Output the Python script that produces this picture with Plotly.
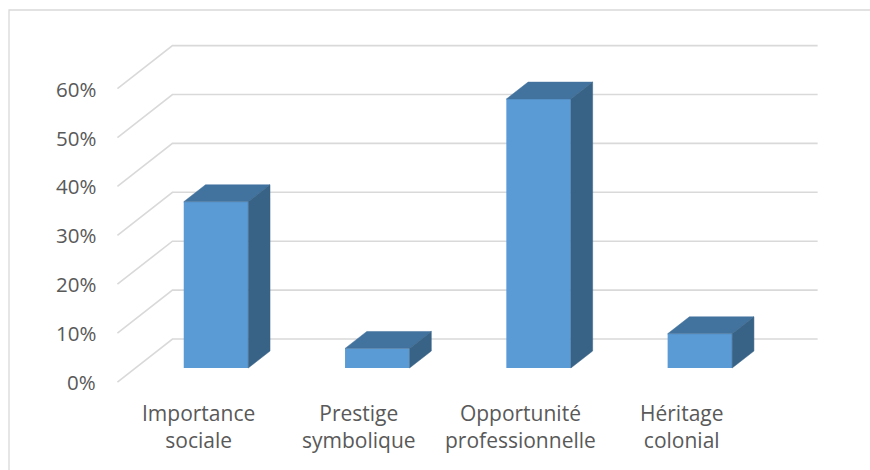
import plotly.graph_objects as go

# Data
categories = ["Importance<br>sociale", "Prestige<br>symbolique",
              "Opportunité<br>professionnelle", "Héritage<br>colonial"]
values = [34, 4, 55, 7]
tick_values = [0, 10, 20, 30, 40, 50, 60]
tick_labels = ["0%", "10%", "20%", "30%", "40%", "50%", "60%"]

# Pseudo-3D geometry (in axis units, relative to the bars' front plane)
BAR_W = 0.4
FRONT = (-0.111, -2.87)      # front edge of the floor
BACK = (0.230, 5.93)         # back wall
DEPTH = (0.135, 3.47)        # bar depth
X_LEFT, X_RIGHT = -0.5, len(categories) - 0.5

FRONT_COLOR = "#5B9BD5"
TOP_COLOR = "#42729E"
SIDE_COLOR = "#386387"
GRID_COLOR = "#D9D9D9"
TEXT_COLOR = "#595959"
FONT = "Open Sans"

fig = go.Figure()

xs = list(range(len(categories)))

# top and side faces
for x, v in zip(xs, values):
    l, r = x - BAR_W / 2, x + BAR_W / 2
    dx, dy = DEPTH
    fig.add_trace(go.Scatter(
        x=[l, r, r + dx, l + dx, l], y=[v, v, v + dy, v + dy, v],
        fill="toself", fillcolor=TOP_COLOR, mode="lines",
        line=dict(color=TOP_COLOR, width=0.5), hoverinfo="skip", showlegend=False))
    fig.add_trace(go.Scatter(
        x=[r, r + dx, r + dx, r, r], y=[0, dy, v + dy, v, 0],
        fill="toself", fillcolor=SIDE_COLOR, mode="lines",
        line=dict(color=SIDE_COLOR, width=0.5), hoverinfo="skip", showlegend=False))

# front faces
fig.add_trace(go.Bar(x=xs, y=values, width=BAR_W, marker=dict(color=FRONT_COLOR, line=dict(width=0)),
                     hoverinfo="skip", showlegend=False))

shapes = []
annotations = []
for v, lab in zip(tick_values, tick_labels):
    # side-wall diagonal + back-wall gridline
    shapes.append(dict(type="path", layer="below", xref="x", yref="y",
                       path=f"M {X_LEFT + FRONT[0]},{v + FRONT[1]} L {X_LEFT + BACK[0]},{v + BACK[1]} "
                            f"L {X_RIGHT + BACK[0]},{v + BACK[1]}",
                       line=dict(color=GRID_COLOR, width=1.6)))
    annotations.append(dict(x=X_LEFT + FRONT[0], y=v + FRONT[1], xref="x", yref="y",
                            text=lab, showarrow=False, xanchor="right", yanchor="middle",
                            xshift=-19, font=dict(family=FONT, size=20.5, color=TEXT_COLOR)))

for x, c in zip(xs, categories):
    annotations.append(dict(x=x + FRONT[0], y=FRONT[1], xref="x", yref="y", text=c,
                            showarrow=False, xanchor="center", yanchor="top", yshift=-15,
                            font=dict(family=FONT, size=21, color=TEXT_COLOR)))

# chart-area border
shapes.append(dict(type="rect", xref="paper", yref="paper", x0=9 / 870, y0=-0.1,
                   x1=1.1, y1=1 - 10 / 470, line=dict(color=GRID_COLOR, width=1.3), layer="below"))

fig.update_layout(
    width=870, height=470,
    margin=dict(l=0, r=0, t=0, b=0),
    paper_bgcolor="white", plot_bgcolor="white",
    xaxis=dict(range=[-1.3391, 4.0546], visible=False, fixedrange=True),
    yaxis=dict(range=[-20.859, 75.256], visible=False, fixedrange=True),
    shapes=shapes, annotations=annotations,
    barmode="overlay",
)

fig.write_html("out.html")
